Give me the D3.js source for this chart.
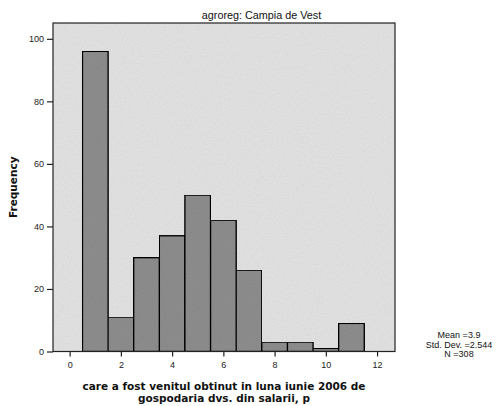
<!DOCTYPE html>
<html>
<head>
<meta charset="utf-8">
<script src="https://cdn.jsdelivr.net/npm/d3@7"></script>
<style>
  html, body { margin: 0; padding: 0; background: #fff; }
  svg { display: block; }
</style>
</head>
<body>
<script>
// Histogram of monthly wage income bins, region "Campia de Vest"
const bins = [1, 2, 3, 4, 5, 6, 7, 8, 9, 10, 11];
const counts = [96, 11, 30, 37, 50, 42, 26, 3, 3, 1, 9];
const xTicks = [0, 2, 4, 6, 8, 10, 12];
const yTicks = [0, 20, 40, 60, 80, 100];
const titleText = "agroreg: Campia de Vest";
const xLabelLines = ["care a fost venitul obtinut in luna iunie 2006 de", "gospodaria dvs. din salarii, p"];
const yLabelText = "Frequency";
const statsLines = ["Mean =3.9", "Std. Dev. =2.544", "N =308"];

const W = 497, H = 406;
const box = { left: 53, top: 23, right: 395, bottom: 351.5 };

const svg = d3.select("body").append("svg").attr("width", W).attr("height", H);

const defs = svg.append("defs");
const grain = defs.append("filter").attr("id", "grain").attr("x", 0).attr("y", 0).attr("width", 1).attr("height", 1);
grain.append("feTurbulence").attr("type", "fractalNoise").attr("baseFrequency", 0.9).attr("numOctaves", 2).attr("seed", 3).attr("result", "n");
grain.append("feColorMatrix").attr("in", "n").attr("type", "matrix")
  .attr("values", "0 0 0 0 0  0 0 0 0 0  0 0 0 0 0  0 0 0 0.16 0").attr("result", "a");
grain.append("feComposite").attr("in", "a").attr("in2", "SourceGraphic").attr("operator", "in").attr("result", "g");
grain.append("feMerge").selectAll("feMergeNode").data(["SourceGraphic", "g"]).join("feMergeNode").attr("in", d => d);

const x = d3.scaleLinear().domain([-0.65, 12.7]).range([box.left, box.right]);
const y = d3.scaleLinear().domain([0, 105]).range([box.bottom, box.bottom - 105 * 3.127]);

// plot background
svg.append("rect")
  .attr("x", box.left).attr("y", box.top)
  .attr("width", box.right - box.left).attr("height", box.bottom - box.top)
  .attr("fill", "#e6e6e6").attr("filter", "url(#grain)");

// bars
svg.append("g").selectAll("rect").data(bins).join("rect")
  .attr("x", d => x(d - 0.5))
  .attr("y", (d, i) => y(counts[i]))
  .attr("width", d => x(d + 0.5) - x(d - 0.5))
  .attr("height", (d, i) => y(0) - y(counts[i]))
  .attr("fill", "#909090")
  .attr("stroke", "#111").attr("stroke-width", 1.4)
  .attr("filter", "url(#grain)");

// frame
svg.append("rect")
  .attr("x", box.left).attr("y", box.top)
  .attr("width", box.right - box.left).attr("height", box.bottom - box.top)
  .attr("fill", "none").attr("stroke", "#222").attr("stroke-width", 1.2);

const tickFont = "Arial, 'Liberation Sans', sans-serif";

// y axis
const yAxis = svg.append("g").attr("transform", `translate(${box.left},0)`)
  .call(d3.axisLeft(y).tickValues(yTicks).tickSize(6).tickPadding(3));
yAxis.select(".domain").remove();
yAxis.selectAll("line").attr("stroke", "#222").attr("stroke-width", 1.2);
yAxis.selectAll("text").attr("font-family", tickFont).attr("font-size", 9).attr("fill", "#222");

// x axis
const xAxis = svg.append("g").attr("transform", `translate(0,${box.bottom})`)
  .call(d3.axisBottom(x).tickValues(xTicks).tickSize(5).tickPadding(5));
xAxis.select(".domain").remove();
xAxis.selectAll("line").attr("stroke", "#222").attr("stroke-width", 1.2);
xAxis.selectAll("text").attr("font-family", tickFont).attr("font-size", 9).attr("fill", "#222");

// title
svg.append("text")
  .attr("x", 261.5).attr("y", 19)
  .attr("text-anchor", "middle")
  .attr("font-family", tickFont).attr("font-size", 10.8).attr("fill", "#111")
  .text(titleText);

// y label
svg.append("text")
  .attr("transform", `translate(17,${(box.top + box.bottom) / 2}) rotate(-90)`)
  .attr("text-anchor", "middle")
  .attr("font-family", "'DejaVu Sans', Verdana, sans-serif").attr("font-weight", "bold")
  .attr("font-size", 10.5).attr("fill", "#111")
  .text(yLabelText);

// x label
svg.append("text")
  .attr("text-anchor", "middle")
  .attr("font-family", "'DejaVu Sans', Verdana, sans-serif").attr("font-weight", "bold")
  .attr("font-size", 10.5).attr("fill", "#111")
  .selectAll("tspan").data(xLabelLines).join("tspan")
  .attr("x", (box.left + box.right) / 2)
  .attr("y", (d, i) => 390 + i * 12)
  .text(d => d);

// summary statistics
svg.append("text")
  .attr("text-anchor", "middle")
  .attr("font-family", tickFont).attr("font-size", 9).attr("fill", "#111")
  .selectAll("tspan").data(statsLines).join("tspan")
  .attr("x", 459)
  .attr("y", (d, i) => 338 + i * 9.6)
  .text(d => d);
</script>
</body>
</html>
